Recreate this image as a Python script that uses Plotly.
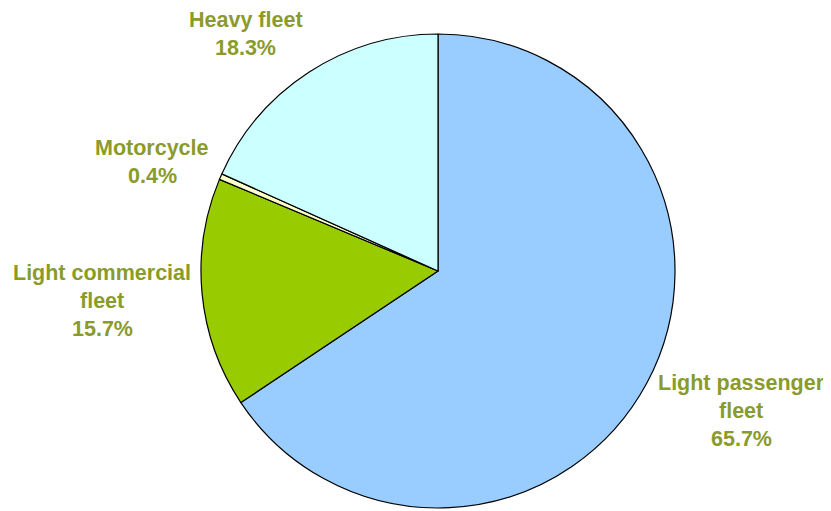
import plotly.graph_objects as go

labels = ["Light passenger fleet", "Light commercial fleet", "Motorcycle", "Heavy fleet"]
values = [65.7, 15.7, 0.4, 18.3]
colors = ["#99CCFF", "#99CC00", "#FFFFCC", "#CCFFFF"]

# label text lines and where they sit (page px: centre x, first-line y)
label_lines = [
    ["Light passenger", "fleet", "65.7%"],
    ["Light commercial", "fleet", "15.7%"],
    ["Motorcycle", "0.4%"],
    ["Heavy fleet", "18.3%"],
]
label_pos = [(741, 383), (102, 273), (152, 148), (246, 20)]

W, H = 831, 511
OFF = 8  # page body margin
fig = go.Figure()
fig.add_trace(go.Pie(labels=labels,
                     values=values,
                     sort=False,
                     direction='clockwise',
                     rotation=0,
                     textinfo='none',
                     hoverinfo='label+percent',
                     marker=dict(colors=colors, line=dict(color='black', width=1.2)),
                     domain=dict(x=[(438 - OFF - 237) / W, (438 - OFF + 237) / W],
                                 y=[1 - (508 - OFF) / H, 1 - (34 - OFF) / H]),
                     showlegend=False
                     ))

for lines, (cx, cy) in zip(label_lines, label_pos):
    for i, txt in enumerate(lines):
        fig.add_annotation(x=(cx - OFF) / W, y=1 - (cy - OFF + i * 27.8) / H,
                           xref='paper', yref='paper',
                           text="<b>%s</b>" % txt, showarrow=False,
                           xanchor='center', yanchor='middle',
                           font=dict(family="Liberation Sans, Arial", size=21.5, color="#8A9B2B"))

fig.update_layout(width=W, height=H,
                  margin=dict(l=0, r=0, t=0, b=0),
                  paper_bgcolor='white', plot_bgcolor='white')

fig.write_html("out.html")
